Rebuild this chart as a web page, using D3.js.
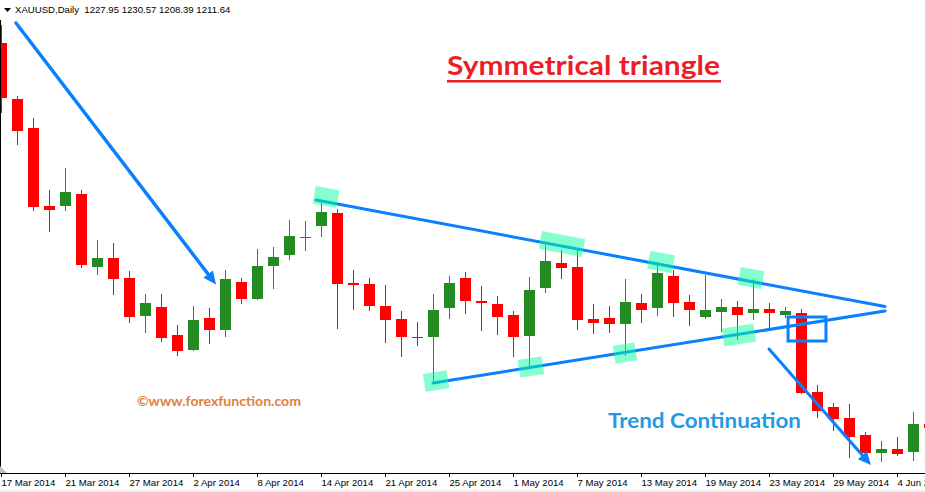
<!DOCTYPE html>
<html><head><meta charset="utf-8">
<script src="https://cdn.jsdelivr.net/npm/d3@7"></script>
<style>html,body{margin:0;padding:0;background:#fff;overflow:hidden}svg{display:block}</style>
</head><body>
<svg id="c" width="925" height="492"></svg>
<script>
// ---- data ----
const tickLabels = ["17 Mar 2014","21 Mar 2014","27 Mar 2014","2 Apr 2014","8 Apr 2014","14 Apr 2014","21 Apr 2014","25 Apr 2014","1 May 2014","7 May 2014","13 May 2014","19 May 2014","23 May 2014","29 May 2014","4 Jun 2014"];
const tickBars = [0,4,8,12,16,20,24,28,32,36,40,44,48,52,56];
const open  = [1385.67,1367.00,1357.33,1331.33,1331.33,1335.33,1311.00,1314.00,1307.33,1294.67,1297.67,1288.33,1283.33,1294.00,1290.00,1306.00,1300.33,1311.33,1315.00,1320.50,1324.67,1329.00,1305.67,1305.33,1298.00,1293.67,1287.83,1287.67,1297.33,1307.33,1299.67,1298.67,1295.00,1288.00,1304.00,1312.33,1311.00,1293.67,1294.00,1292.00,1299.00,1297.33,1308.00,1299.33,1294.33,1296.00,1297.67,1295.67,1297.00,1295.00,1295.67,1269.33,1264.33,1260.67,1255.00,1249.00,1250.33,1249.33,1258.67];
const high  = [1391.67,1368.00,1360.67,1336.67,1344.00,1336.67,1320.00,1319.00,1309.67,1302.00,1302.00,1291.67,1298.00,1297.33,1310.00,1307.33,1317.00,1317.67,1326.67,1326.33,1333.33,1330.33,1310.00,1307.33,1305.00,1296.33,1292.67,1302.00,1308.00,1309.33,1304.67,1301.33,1296.33,1307.67,1318.33,1316.67,1316.67,1298.67,1298.00,1307.00,1302.00,1312.67,1310.00,1301.67,1308.33,1300.33,1299.67,1307.00,1299.00,1297.67,1297.00,1271.67,1265.67,1265.33,1256.00,1253.00,1254.33,1262.67,1260.00];
const low   = [1362.33,1351.67,1329.67,1322.67,1329.67,1310.67,1308.33,1301.67,1292.33,1289.00,1286.00,1281.33,1283.00,1285.33,1287.67,1298.67,1300.00,1303.67,1313.33,1316.33,1321.00,1290.33,1296.67,1296.33,1285.67,1281.00,1284.67,1273.00,1293.67,1295.33,1289.67,1288.33,1281.00,1277.67,1302.33,1307.00,1290.00,1288.67,1289.00,1281.33,1292.33,1294.67,1294.33,1291.33,1293.67,1289.33,1286.67,1293.33,1290.33,1294.00,1268.67,1260.67,1256.33,1247.33,1248.67,1246.00,1248.00,1246.33,1256.00];
const close = [1367.33,1356.33,1331.00,1330.00,1336.00,1311.67,1314.00,1307.00,1294.33,1299.00,1287.33,1283.00,1293.33,1290.00,1307.00,1300.33,1311.33,1314.33,1321.33,1321.00,1329.33,1305.33,1305.00,1298.00,1293.33,1287.67,1287.17,1296.67,1305.67,1299.67,1299.00,1294.33,1287.67,1303.33,1313.00,1310.67,1293.33,1292.33,1292.00,1299.33,1296.67,1309.00,1299.00,1296.67,1296.67,1297.67,1295.00,1297.00,1295.67,1296.33,1269.00,1263.00,1260.33,1254.33,1249.00,1250.33,1248.67,1258.67,1257.33];

// annotations in (bar index, price)
const upperLine = [[19.66,1333.33],[55.22,1297.83]];
const lowerLine = [[26.97,1272.33],[55.22,1296.33]];
const arrowDown1 = [[0.906,1392.33],[13.41,1305.17]];
const arrowDown2 = [[47.97,1283.67],[54.34,1245.0]];
const breakBox = [[49.16,1294.33],[51.53,1286.33]];
const upperTouches = [[20.28,1334.33,24],[35.03,1318.67,44],[41.22,1312.67,25],[46.84,1307.33,24]];
const lowerTouches = [[27.16,1273.0,24],[33.09,1277.67,24],[38.97,1282.33,22],[46.09,1288.33,32]];

// ---- drawing ----
const svg = d3.select('#c');
const x = d3.scaleLinear().domain([0,1]).range([1.5,17.5]);
const y = d3.scaleLinear().domain([1240,1400]).range([480,0]);
const axisY = 473;

svg.append('rect').attr('width',925).attr('height',492).attr('fill','#fff');
svg.append('rect').attr('x',0).attr('y',490).attr('width',925).attr('height',2).attr('fill','#f0f0f0');

svg.append('defs').append('clipPath').attr('id','plot')
  .append('rect').attr('x',0).attr('y',0).attr('width',925).attr('height',axisY);

const g = svg.append('g').attr('clip-path','url(#plot)');

const bars = d3.range(open.length).map(i=>({i,o:open[i],h:high[i],l:low[i],c:close[i]}));
const col = d => d.c >= d.o ? '#228b22' : '#ff0000';

const cg = g.append('g').attr('shape-rendering','crispEdges');
cg.selectAll('line.w').data(bars).join('line').attr('class','w')
  .attr('x1',d=>Math.floor(x(d.i))+0.5).attr('x2',d=>Math.floor(x(d.i))+0.5)
  .attr('y1',d=>Math.round(y(d.h))).attr('y2',d=>Math.round(y(d.l)))
  .attr('stroke',col).attr('stroke-width',1);
cg.selectAll('rect.b').data(bars).join('rect').attr('class','b')
  .attr('x',d=>Math.floor(x(d.i))-5).attr('width',11)
  .attr('y',d=>Math.round(y(Math.max(d.o,d.c))))
  .attr('height',d=>Math.max(1,Math.round(y(Math.min(d.o,d.c)))-Math.round(y(Math.max(d.o,d.c)))))
  .attr('fill',col);

const blue = '#0a80ff';
const P = p => [x(p[0]), y(p[1])];

// trendlines
[upperLine, lowerLine].forEach(L=>{
  const a=P(L[0]), b=P(L[1]);
  g.append('line').attr('x1',a[0]).attr('y1',a[1]).attr('x2',b[0]).attr('y2',b[1])
   .attr('stroke',blue).attr('stroke-width',3).attr('stroke-linecap','round');
});

// arrows
function arrow(A, w){
  const a=P(A[0]), b=P(A[1]);
  const ang=Math.atan2(b[1]-a[1], b[0]-a[0]);
  const len=13, hw=6;
  const bx=b[0]-len*Math.cos(ang), by=b[1]-len*Math.sin(ang);
  g.append('line').attr('x1',a[0]).attr('y1',a[1]).attr('x2',bx+2*Math.cos(ang)).attr('y2',by+2*Math.sin(ang))
   .attr('stroke',blue).attr('stroke-width',w).attr('stroke-linecap','round');
  const p1=[bx+hw*Math.sin(ang), by-hw*Math.cos(ang)], p2=[bx-hw*Math.sin(ang), by+hw*Math.cos(ang)];
  g.append('polygon').attr('points',[b,p1,p2].map(p=>p.join(',')).join(' ')).attr('fill',blue);
}
arrow(arrowDown1, 3.5);
arrow(arrowDown2, 3);

// breakout box
{
  const a=P(breakBox[0]), b=P(breakBox[1]);
  g.append('rect').attr('x',a[0]).attr('y',a[1]).attr('width',b[0]-a[0]).attr('height',b[1]-a[1])
   .attr('fill','none').attr('stroke',blue).attr('stroke-width',3);
}

// touch highlights
function touches(list, L){
  const a=P(L[0]), b=P(L[1]);
  const deg=Math.atan2(b[1]-a[1], b[0]-a[0])*180/Math.PI;
  list.forEach(t=>{
    const c=P(t);
    g.append('rect').attr('x',-t[2]/2).attr('y',-9).attr('width',t[2]).attr('height',18)
     .attr('transform',`translate(${c[0]},${c[1]}) rotate(${deg})`)
     .attr('fill','#00ff99').attr('fill-opacity',0.48);
  });
}
touches(upperTouches, upperLine);
touches(lowerTouches, lowerLine);

// frame
svg.append('line').attr('x1',0.5).attr('x2',0.5).attr('y1',20).attr('y2',axisY+0.5).attr('stroke','#000');
svg.append('line').attr('x1',0).attr('x2',925).attr('y1',axisY+0.5).attr('y2',axisY+0.5).attr('stroke','#000');
svg.append('polygon').attr('points',`0,466 0,${axisY} 7,${axisY}`).attr('fill','#c0c0c0');

// x axis
const ax = svg.append('g').attr('transform',`translate(0,${axisY+0.5})`)
  .call(d3.axisBottom(x).tickValues(tickBars).tickFormat((d,i)=>tickLabels[i]).tickSize(3).offset(0));
ax.select('.domain').remove();
ax.selectAll('.tick line').attr('stroke','#000').attr('transform','translate(-0.5,0)').attr('shape-rendering','crispEdges');
ax.selectAll('.tick text').attr('x',0).attr('y',12.5).attr('dy',null).attr('text-anchor','start')
  .attr('font-family','Liberation Sans, Arial, sans-serif').attr('font-size',9.6).attr('fill','#000');

// header
svg.append('polygon').attr('points','4,8 11,8 7.5,12').attr('fill','#000');
svg.append('text').attr('x',15).attr('y',13).attr('font-family','Liberation Sans, Arial, sans-serif')
  .attr('font-size',9.6).attr('fill','#000').attr('xml:space','preserve')
  .text('XAUUSD,Daily  1227.95 1230.57 1208.39 1211.64');

// titles
svg.append('text').attr('x',447).attr('y',75).attr('font-family','Lato, sans-serif').attr('font-weight',700)
  .attr('font-size',26.5).attr('fill','#ee1c25').attr('textLength',273).attr('lengthAdjust','spacingAndGlyphs')
  .text('Symmetrical triangle');
svg.append('rect').attr('x',447).attr('y',80).attr('width',274).attr('height',2.5).attr('fill','#ee1c25');

svg.append('text').attr('x',137).attr('y',406).attr('font-family','Lato, sans-serif').attr('font-weight',700)
  .attr('font-size',14).attr('fill','#e2803d').attr('textLength',164).attr('lengthAdjust','spacingAndGlyphs')
  .text('©www.forexfunction.com');

svg.append('text').attr('x',608).attr('y',428).attr('font-family','Lato, sans-serif').attr('font-weight',700)
  .attr('font-size',21).attr('fill','#1f9be6').attr('textLength',193).attr('lengthAdjust','spacingAndGlyphs')
  .text('Trend Continuation');
</script>
</body></html>
